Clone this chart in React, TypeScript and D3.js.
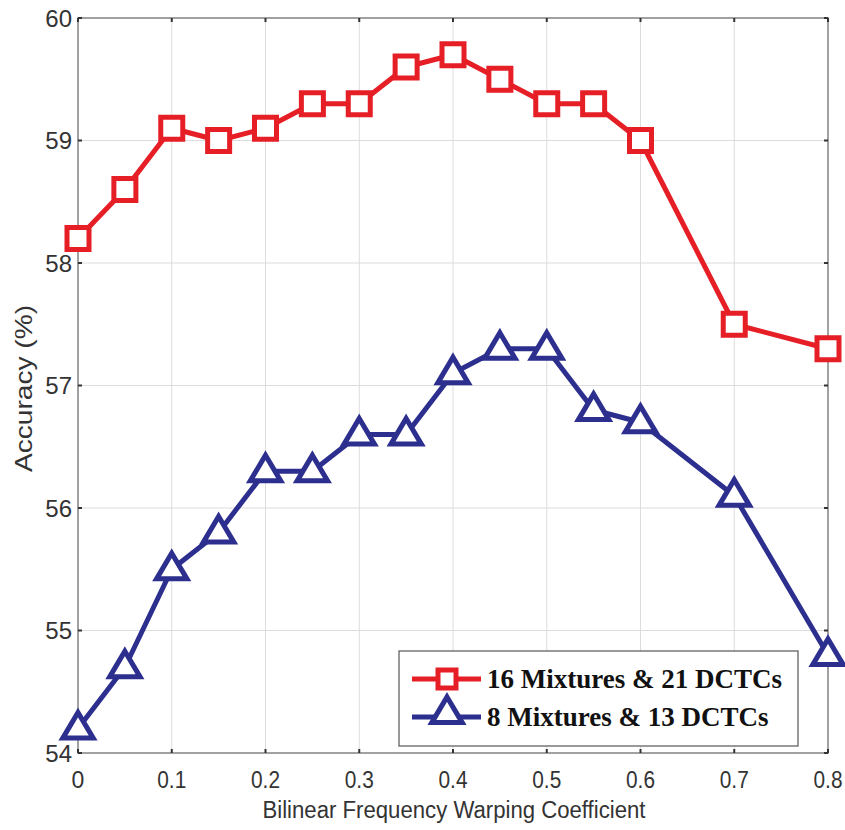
import React, { useEffect, useRef } from "react";
import * as d3 from "d3";

const coeffs = [0, 0.05, 0.1, 0.15, 0.2, 0.25, 0.3, 0.35, 0.4, 0.45, 0.5, 0.55, 0.6, 0.7, 0.8];
const mix16 = [58.2, 58.6, 59.1, 59.0, 59.1, 59.3, 59.3, 59.6, 59.7, 59.5, 59.3, 59.3, 59.0, 57.5, 57.3];
const mix8 = [54.2, 54.7, 55.5, 55.8, 56.3, 56.3, 56.6, 56.6, 57.1, 57.3, 57.3, 56.8, 56.7, 56.1, 54.8];
const xTicks = [0, 0.1, 0.2, 0.3, 0.4, 0.5, 0.6, 0.7, 0.8];
const yTicks = [54, 55, 56, 57, 58, 59, 60];
const seriesNames = ["16 Mixtures & 21 DCTCs", "8 Mixtures & 13 DCTCs"];

const RED = "#e61e26";
const BLUE = "#2c2f8e";

export default function App() {
  const ref = useRef<SVGSVGElement>(null);

  useEffect(() => {
    const svg = d3.select(ref.current);
    svg.selectAll("*").remove();

    const margin = { top: 18, right: 17, bottom: 77, left: 78 };
    const width = 845 - margin.left - margin.right;
    const height = 830 - margin.top - margin.bottom;

    const x = d3.scaleLinear().domain([0, 0.8]).range([0, width]);
    const y = d3.scaleLinear().domain([54, 60]).range([height, 0]);

    const g = svg.append("g").attr("transform", `translate(${margin.left},${margin.top})`);

    // grid
    g.append("g").selectAll("line").data(xTicks).join("line")
      .attr("x1", (d) => x(d)).attr("x2", (d) => x(d))
      .attr("y1", 0).attr("y2", height)
      .attr("stroke", "#dcdcdc").attr("stroke-width", 1);
    g.append("g").selectAll("line").data(yTicks).join("line")
      .attr("x1", 0).attr("x2", width)
      .attr("y1", (d) => y(d)).attr("y2", (d) => y(d))
      .attr("stroke", "#dcdcdc").attr("stroke-width", 1);

    // frame
    g.append("rect").attr("width", width).attr("height", height)
      .attr("fill", "none").attr("stroke", "#888").attr("stroke-width", 1.5);

    // inward ticks on all sides
    const tickLen = 4;
    const tickStyle = (s: any) => s.attr("stroke", "#333").attr("stroke-width", 2);
    g.append("g").selectAll("line").data(xTicks).join("line")
      .attr("x1", (d) => x(d)).attr("x2", (d) => x(d))
      .attr("y1", height).attr("y2", height - tickLen).call(tickStyle);
    g.append("g").selectAll("line").data(xTicks).join("line")
      .attr("x1", (d) => x(d)).attr("x2", (d) => x(d))
      .attr("y1", 0).attr("y2", tickLen).call(tickStyle);
    g.append("g").selectAll("line").data(yTicks).join("line")
      .attr("x1", 0).attr("x2", tickLen)
      .attr("y1", (d) => y(d)).attr("y2", (d) => y(d)).call(tickStyle);
    g.append("g").selectAll("line").data(yTicks).join("line")
      .attr("x1", width).attr("x2", width - tickLen)
      .attr("y1", (d) => y(d)).attr("y2", (d) => y(d)).call(tickStyle);

    // tick labels
    const labelFont = "'Liberation Sans', Arial, sans-serif";
    g.append("g").selectAll("text").data(xTicks).join("text")
      .attr("x", (d) => x(d)).attr("y", height + 35)
      .attr("text-anchor", "middle")
      .attr("font-family", labelFont).attr("font-size", 23).attr("fill", "#333")
      .attr("textLength", 29).attr("lengthAdjust", "spacingAndGlyphs")
      .text((d) => String(d))
      .attr("textLength", (d) => (d === 0 ? null : 29));
    g.append("g").selectAll("text").data(yTicks).join("text")
      .attr("x", -6).attr("y", (d) => y(d) + 8.5)
      .attr("text-anchor", "end")
      .attr("font-family", labelFont).attr("font-size", 24).attr("fill", "#333")
      .text((d) => String(d));

    // axis titles
    g.append("text")
      .attr("x", width / 2 + 1).attr("y", height + 65)
      .attr("text-anchor", "middle")
      .attr("font-family", labelFont).attr("font-size", 23).attr("fill", "#333")
      .attr("textLength", 383).attr("lengthAdjust", "spacingAndGlyphs")
      .text("Bilinear Frequency Warping Coefficient");
    g.append("text")
      .attr("transform", `translate(${-46},${height / 2 + 3}) rotate(-90)`)
      .attr("text-anchor", "middle")
      .attr("font-family", labelFont).attr("font-size", 24).attr("fill", "#333")
      .attr("textLength", 167).attr("lengthAdjust", "spacingAndGlyphs")
      .text("Accuracy (%)");

    const line = d3.line<number>().x((_, i) => x(coeffs[i]));

    const sq = 22;
    const triPath = (cx: number, cy: number) => {
      const r = 16;
      return `M${cx},${cy - r}L${cx + r * 0.95},${cy + r * 0.6}L${cx - r * 0.95},${cy + r * 0.6}Z`;
    };

    // red series
    g.append("path").datum(mix16)
      .attr("d", line.y((d) => y(d)))
      .attr("fill", "none").attr("stroke", RED).attr("stroke-width", 5).attr("stroke-linejoin", "round");
    g.append("g").selectAll("rect").data(mix16).join("rect")
      .attr("x", (d, i) => x(coeffs[i]) - sq / 2).attr("y", (d) => y(d) - sq / 2)
      .attr("width", sq).attr("height", sq)
      .attr("fill", "#fff").attr("stroke", RED).attr("stroke-width", 5);

    // blue series
    g.append("path").datum(mix8)
      .attr("d", line.y((d) => y(d)))
      .attr("fill", "none").attr("stroke", BLUE).attr("stroke-width", 5).attr("stroke-linejoin", "round");
    g.append("g").selectAll("path").data(mix8).join("path")
      .attr("d", (d, i) => triPath(x(coeffs[i]), y(d)))
      .attr("fill", "#fff").attr("stroke", BLUE).attr("stroke-width", 5).attr("stroke-linejoin", "miter");

    // legend
    const lg = svg.append("g").attr("transform", "translate(399,651)");
    lg.append("rect").attr("width", 399).attr("height", 95)
      .attr("fill", "#fff").attr("stroke", "#555").attr("stroke-width", 1.2);
    const rows = [
      { color: RED, name: seriesNames[0], yy: 28, kind: "sq" },
      { color: BLUE, name: seriesNames[1], yy: 66, kind: "tri" },
    ];
    rows.forEach((r) => {
      lg.append("line").attr("x1", 13).attr("x2", 82).attr("y1", r.yy).attr("y2", r.yy)
        .attr("stroke", r.color).attr("stroke-width", 5);
      if (r.kind === "sq") {
        lg.append("rect").attr("x", 48 - 9).attr("y", r.yy - 9)
          .attr("width", 18).attr("height", 18)
          .attr("fill", "#fff").attr("stroke", r.color).attr("stroke-width", 5);
      } else {
        lg.append("path").attr("d", triPath(48, r.yy - 4))
          .attr("fill", "#fff").attr("stroke", r.color).attr("stroke-width", 5);
      }
      lg.append("text").attr("x", 88).attr("y", r.yy + 9)
        .attr("font-family", "'Liberation Serif', 'Times New Roman', serif")
        .attr("font-weight", "bold").attr("font-size", 27).attr("fill", "#111")
        .text(r.name);
    });
  }, []);

  return (
    <svg
      ref={ref}
      width={845}
      height={830}
      style={{ display: "block", position: "absolute", left: 0, top: 0, overflow: "visible" }}
    />
  );
}
